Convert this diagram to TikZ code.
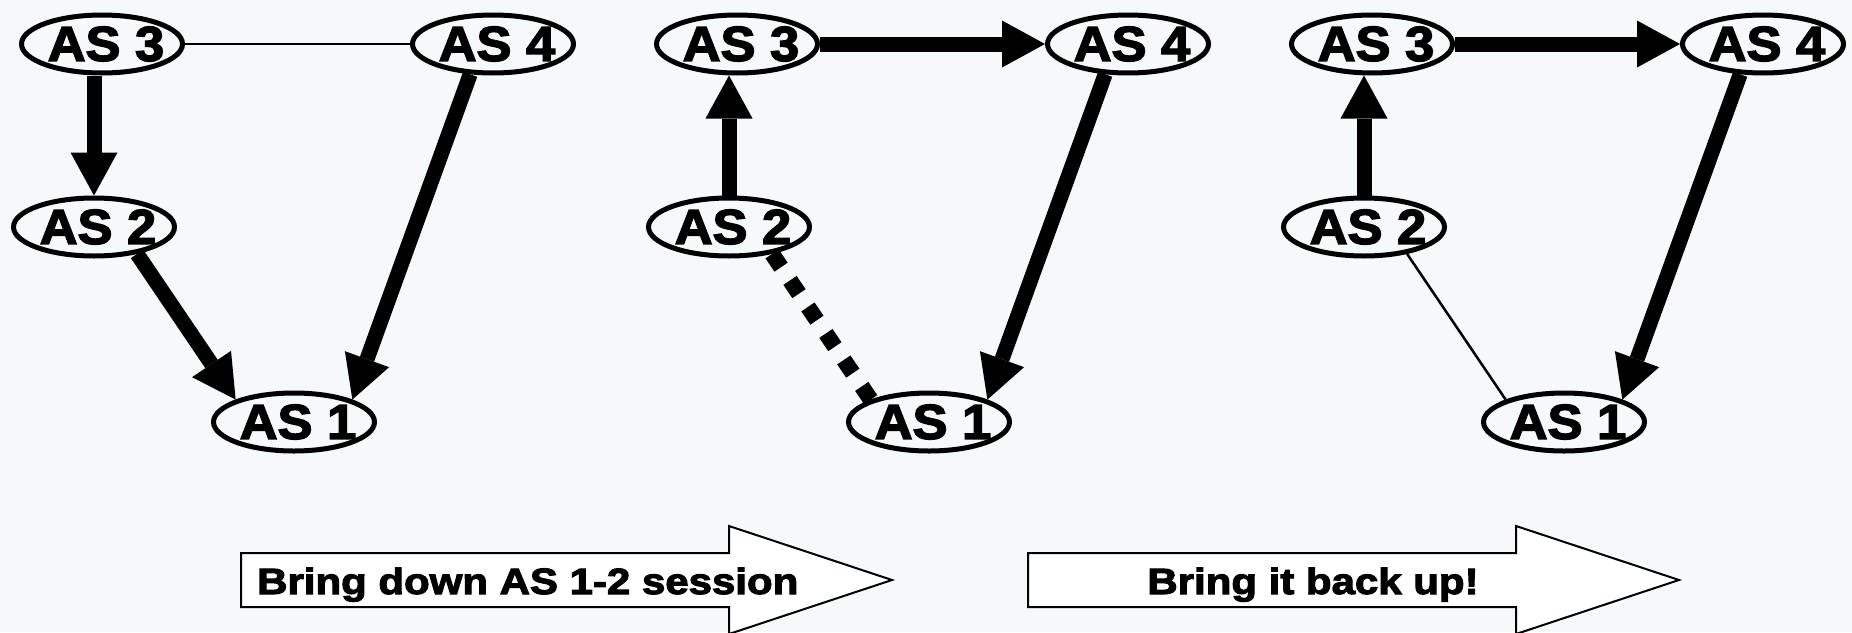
\documentclass[tikz,border=0pt]{standalone}
\usepackage{fontspec}
\usetikzlibrary{arrows.meta,shapes.geometric}
\newfontfamily\asfont[FakeStretch=1.07,FakeBold=3]{Liberation Sans Bold}
\newfontfamily\blkfont[FakeStretch=1.15,FakeBold=3]{Liberation Sans Bold}
\definecolor{bg}{RGB}{245,249,250}
\newcommand\aslab[1]{\makebox[0pt]{\kern8pt #1}}
\tikzset{
  asnode/.style={ellipse, draw=black, line width=5pt, fill=bg, minimum width=161pt, minimum height=58pt, inner sep=0pt, font=\asfont\fontsize{49pt}{49pt}\selectfont},
  thickln/.style={line width=15pt, draw=black},
  arr/.style={-{Triangle[length=43pt,width=47pt,line width=0pt]}},
  thinln/.style={line width=2.5pt, draw=black},
  dotln/.style={line width=16pt, draw=black, dash pattern=on 16pt off 16pt},
  blkarrow/.style={draw=black, line width=2pt, fill=white, line join=miter},
  blktext/.style={inner sep=0pt, font=\blkfont\fontsize{36.5pt}{36.5pt}\selectfont}
}
\begin{document}
\begin{tikzpicture}[x=1pt,y=-1pt]
\useasboundingbox (0,0) rectangle (1852,632);
\fill[bg] (0,0) rectangle (1852,632);
% left panel
\node[asnode] (L3) at (102,44) {\aslab{AS 3}};
\node[asnode] (L4) at (493,44) {\aslab{AS 4}};
\node[asnode] (L2) at (94,227) {\aslab{AS 2}};
\node[asnode] (L1) at (294,422) {\aslab{AS 1}};
% middle panel
\node[asnode] (M3) at (737,44) {\aslab{AS 3}};
\node[asnode] (M4) at (1128,44) {\aslab{AS 4}};
\node[asnode] (M2) at (729,227) {\aslab{AS 2}};
\node[asnode] (M1) at (929,422) {\aslab{AS 1}};
% right panel
\node[asnode] (R3) at (1372,44) {\aslab{AS 3}};
\node[asnode] (R4) at (1763,44) {\aslab{AS 4}};
\node[asnode] (R2) at (1364,227) {\aslab{AS 2}};
\node[asnode] (R1) at (1564,422) {\aslab{AS 1}};
% left edges
\draw[thinln] (L3.east) -- (L4.west);
\draw[thickln, arr] (L3.south -| L2.north) -- (L2.north);
\draw[thickln, arr] (L2.-32) -- (L1.159);
\draw[thickln, arr] (L4.-127) -- (L1.21);
% middle edges
\draw[thickln, arr] (M2.north) -- (M3.south -| M2.north);
\draw[thickln, arr] (M3.east) -- (M4.west);
\draw[dotln] (M2.-32) -- (M1.159);
\draw[thickln, arr] (M4.-127) -- (M1.21);
% right edges
\draw[thickln, arr] (R2.north) -- (R3.south -| R2.north);
\draw[thickln, arr] (R3.east) -- (R4.west);
\draw[thinln] (R2.-32) -- (R1.159);
\draw[thickln, arr] (R4.-127) -- (R1.21);
% block arrows
\draw[blkarrow] (241,553) -- (729,553) -- (729,526) -- (892,580) -- (729,634) -- (729,607) -- (241,607) -- cycle;
\node[blktext, anchor=base west] (T1) at (257,594) {Bring down AS 1-2 session};
\draw[blkarrow] (1028,553) -- (1516,553) -- (1516,526) -- (1679,580) -- (1516,634) -- (1516,607) -- (1028,607) -- cycle;
\node[blktext, anchor=base] (T2) at (1313,594) {Bring it back up!};
\end{tikzpicture}
\end{document}
